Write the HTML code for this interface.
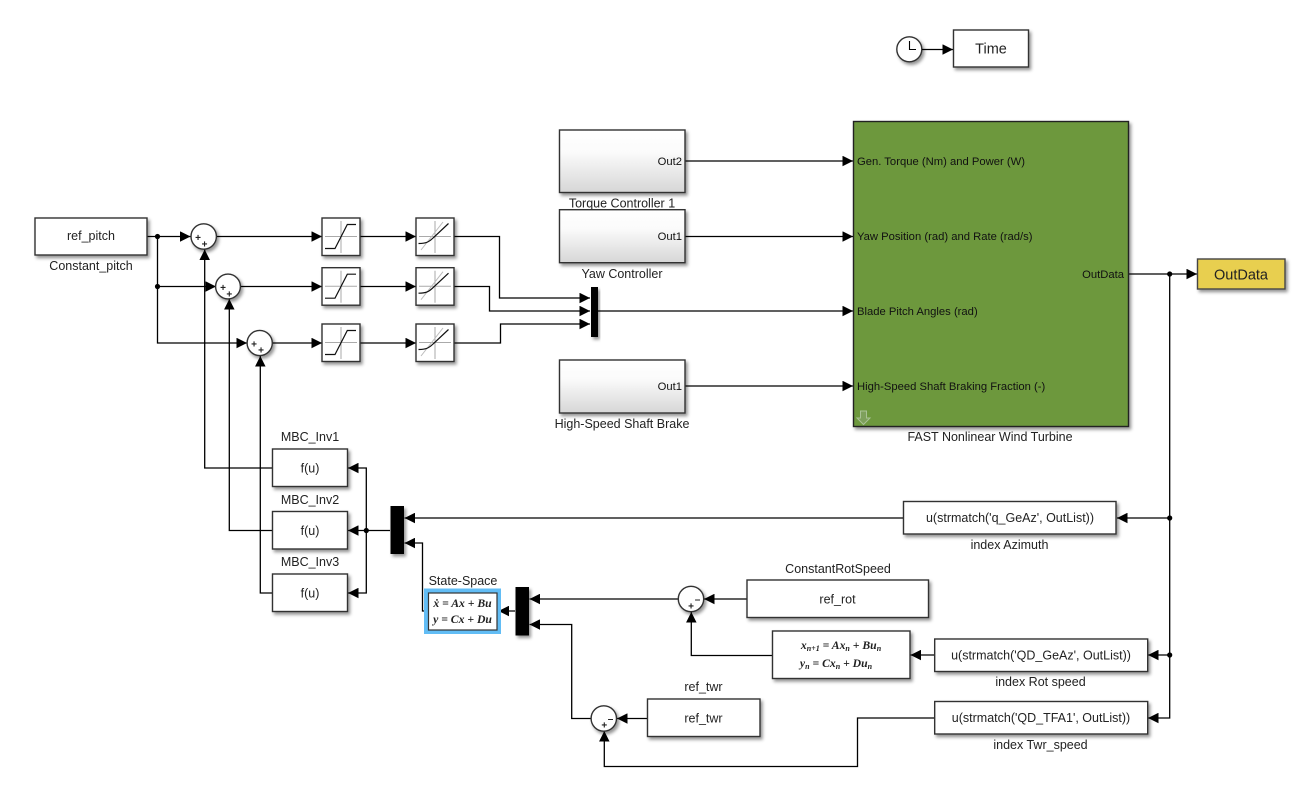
<!DOCTYPE html>
<html>
<head>
<meta charset="utf-8">
<style>
html,body{margin:0;padding:0;background:#fff;width:1303px;height:788px;overflow:hidden}
svg{display:block}
text{font-family:"Liberation Sans",Arial,sans-serif;font-size:12.5px;fill:#222}
.m{text-anchor:middle}
.e{text-anchor:end}
.s{font-size:11.25px;fill:#111}
.w{fill:none;stroke:#000;stroke-width:1.3;marker-end:url(#a)}
.n{fill:none;stroke:#000;stroke-width:1.1}
.b{fill:#fff;stroke:#333;stroke-width:1.4;filter:url(#sh)}
.g{fill:url(#gr);stroke:#333;stroke-width:1.4;filter:url(#sh)}
.sg{font-size:10px;font-weight:bold;text-anchor:middle;fill:#222}
.q{font-family:"Liberation Serif",serif;font-style:italic;font-weight:bold;font-size:11.7px;text-anchor:middle;fill:#222}
</style>
</head>
<body>
<svg width="1303" height="788" viewBox="0 0 1303 788" xmlns="http://www.w3.org/2000/svg">
<defs>
<marker id="a" viewBox="0 0 10 10" refX="10" refY="5" markerWidth="10.5" markerHeight="10.5" markerUnits="userSpaceOnUse" orient="auto"><path d="M0 0L10 5L0 10z" fill="#000"/></marker>
<linearGradient id="gr" x1="0" y1="0" x2="0" y2="1"><stop offset="0" stop-color="#fff"/><stop offset=".35" stop-color="#fbfbfb"/><stop offset="1" stop-color="#d6d6d6"/></linearGradient>
<filter id="sh" x="-20%" y="-20%" width="150%" height="150%"><feDropShadow dx="2" dy="2.5" stdDeviation="1.6" flood-color="#000" flood-opacity=".42"/></filter>
<g id="sat">
<rect class="b" x="0" y="0" width="38" height="37.5"/>
<path d="M19 3V35M3 18.5H35" stroke="#aaa" stroke-width="1" fill="none"/>
<path d="M3 30.5H13L25.3 6.5H34" stroke="#111" stroke-width="1.2" fill="none"/>
</g>
<g id="lut">
<rect class="b" x="0" y="0" width="38" height="37.5"/>
<path d="M19 3V35M3 18.5H35" stroke="#aaa" stroke-width="1" fill="none"/>
<path d="M5 32L27 4" stroke="#bbb" stroke-width="1" fill="none"/>
<path d="M2.5 25.5C10 25.5 13 24 17 20L32.5 5.5" stroke="#111" stroke-width="1.2" fill="none"/>
</g>
</defs>

<!-- Time -->
<circle cx="909.3" cy="49.3" r="12.5" class="b"/>
<path d="M909.5 41V49.5H916" class="n"/>
<path d="M922 49.5H953" class="w"/>
<rect class="b" x="953.5" y="30" width="75" height="37"/>
<text x="991" y="53.5" class="m" style="font-size:14.5px">Time</text>

<!-- wires -->
<path d="M147 236.5H190.500" class="w"/>
<path d="M216.500 236.500H322" class="w"/>
<path d="M360 236.500H416" class="w"/>
<path d="M454 236.500H499.500V298H590" class="w"/>
<path d="M157.500 236.500V343H247" class="w"/>
<path d="M157.500 286.500H216" class="w"/>
<path d="M240.500 286.500H322" class="w"/>
<path d="M360 286.500H416" class="w"/>
<path d="M454 286.500H489.500V311H590" class="w"/>
<path d="M272.500 343H322" class="w"/>
<path d="M360 343H416" class="w"/>
<path d="M454 343H500.500V324H590" class="w"/>
<path d="M598 311H853" class="w"/>
<path d="M685 161H853" class="w"/>
<path d="M685 236.500H853" class="w"/>
<path d="M685 386H853" class="w"/>
<path d="M1129 274H1197" class="w"/>
<path d="M1169.700 274V718H1148" class="w"/>
<path d="M1169.700 518H1117" class="w"/>
<path d="M1169.700 655H1148" class="w"/>
<path d="M903.500 518H404.500" class="w"/>
<path d="M934.500 655H910.500" class="w"/>
<path d="M934.500 718H857.500V766.500H604.300V731" class="w"/>
<path d="M772.500 655.500H691.300V612" class="w"/>
<path d="M747 599H704" class="w"/>
<path d="M678 599H529.500" class="w"/>
<path d="M647 718.500H617" class="w"/>
<path d="M591 718.500H571.700V624.500H529.500" class="w"/>
<path d="M515 611H498.500" class="w"/>
<path d="M428 611H422.500V543H404.500" class="w"/>
<path d="M390 530.500H348" class="w"/>
<path d="M366.300 530.500V468H348" class="w"/>
<path d="M366.300 530.500V593H348" class="w"/>
<path d="M272 468H204.700V249.500" class="w"/>
<path d="M272 530.500H229.300V299" class="w"/>
<path d="M272 593H260.300V356" class="w"/>

<!-- junctions -->
<g fill="#000">
<circle cx="157.500" cy="236.500" r="2.600"/>
<circle cx="157.500" cy="286.500" r="2.600"/>
<circle cx="366.300" cy="530.500" r="2.600"/>
<circle cx="1169.700" cy="274" r="2.600"/>
<circle cx="1169.700" cy="518" r="2.600"/>
<circle cx="1169.700" cy="655" r="2.600"/>
</g>

<!-- ref_pitch -->
<rect class="b" x="35" y="218" width="112" height="37"/>
<text x="91" y="240" class="m">ref_pitch</text>
<text x="91" y="270" class="m">Constant_pitch</text>

<!-- sums -->
<circle class="b" cx="203.700" cy="236.500" r="12.700"/>
<text x="198" y="241" class="sg">+</text><text x="204.500" y="247.500" class="sg">+</text>
<circle class="b" cx="228" cy="286.500" r="12.400"/>
<text x="223" y="291" class="sg">+</text><text x="229.300" y="297.500" class="sg">+</text>
<circle class="b" cx="259.700" cy="343" r="12.600"/>
<text x="254" y="347.500" class="sg">+</text><text x="261" y="353.500" class="sg">+</text>
<circle class="b" cx="691" cy="599" r="12.700"/>
<text x="697.500" y="602.500" class="sg">–</text><text x="691" y="609.500" class="sg">+</text>
<circle class="b" cx="603.800" cy="718.500" r="12.700"/>
<text x="610.500" y="722" class="sg">–</text><text x="604.300" y="728.500" class="sg">+</text>

<!-- saturations and lookups -->
<use href="#sat" x="322" y="218"/>
<use href="#sat" x="322" y="267.700"/>
<use href="#sat" x="322" y="324"/>
<use href="#lut" x="416" y="218"/>
<use href="#lut" x="416" y="267.700"/>
<use href="#lut" x="416" y="324"/>

<!-- muxes -->
<rect x="591" y="287" width="7" height="50" fill="#000" filter="url(#sh)"/>
<rect x="390.500" y="506" width="13.500" height="48" fill="#000" filter="url(#sh)"/>
<rect x="515.500" y="587" width="13.500" height="48.500" fill="#000" filter="url(#sh)"/>

<!-- controllers -->
<rect class="g" x="559.500" y="130" width="125.500" height="62.500"/>
<text x="682" y="165" class="e s">Out2</text>
<text x="622" y="207.500" class="m">Torque Controller 1</text>
<rect class="g" x="559.500" y="209.700" width="125.500" height="53"/>
<text x="682" y="240" class="e s">Out1</text>
<text x="622" y="278" class="m">Yaw Controller</text>
<rect class="g" x="559.500" y="360" width="125.500" height="53"/>
<text x="682" y="390" class="e s">Out1</text>
<text x="622" y="428" class="m">High-Speed Shaft Brake</text>

<!-- FAST -->
<rect x="853.500" y="121.500" width="275" height="305" fill="#6d983c" stroke="#222" stroke-width="1.4" filter="url(#sh)"/>
<text x="857" y="165" class="s">Gen. Torque (Nm) and Power (W)</text>
<text x="857" y="240" class="s">Yaw Position (rad) and Rate (rad/s)</text>
<text x="857" y="315" class="s">Blade Pitch Angles (rad)</text>
<text x="857" y="390" class="s">High-Speed Shaft Braking Fraction (-)</text>
<text x="1124" y="278" class="e s">OutData</text>
<path d="M860.500 411H866.500V418H870L863.500 424.500L857 418H860.500Z" fill="#7ea05c" stroke="#a9c295" stroke-width="1"/>
<text x="990" y="441" class="m">FAST Nonlinear Wind Turbine</text>

<!-- OutData -->
<rect x="1197.500" y="259" width="87.500" height="30" fill="#e8cf50" stroke="#444" stroke-width="1.4" filter="url(#sh)"/>
<text x="1241" y="279.500" class="m" style="font-size:14.500px">OutData</text>

<!-- MBC -->
<text x="310" y="441" class="m">MBC_Inv1</text>
<rect class="b" x="272.500" y="449" width="75" height="37.500"/>
<text x="310" y="472.500" class="m">f(u)</text>
<text x="310" y="504" class="m">MBC_Inv2</text>
<rect class="b" x="272.500" y="511.500" width="75" height="37.500"/>
<text x="310" y="535" class="m">f(u)</text>
<text x="310" y="566" class="m">MBC_Inv3</text>
<rect class="b" x="272.500" y="574" width="75" height="37.500"/>
<text x="310" y="597.500" class="m">f(u)</text>

<!-- State-space -->
<text x="463" y="585" class="m">State-Space</text>
<rect x="424" y="588.500" width="77" height="45.500" fill="#62bdf5"/>
<rect x="428.500" y="593" width="68.500" height="37" fill="#fff" stroke="#333" stroke-width="1.200"/>
<text x="462.500" y="607" class="q">ẋ = Ax + Bu</text>
<text x="462.500" y="623" class="q">y = Cx + Du</text>

<!-- ref_rot -->
<text x="838" y="573" class="m">ConstantRotSpeed</text>
<rect class="b" x="747" y="580" width="181.500" height="37.500"/>
<text x="837.500" y="603.500" class="m">ref_rot</text>

<!-- discrete -->
<rect class="b" x="772.500" y="631" width="137.500" height="47.500"/>
<text x="841" y="649" class="q">x<tspan font-size="8" dy="2">n+1</tspan><tspan dy="-2"> = Ax</tspan><tspan font-size="8" dy="2">n</tspan><tspan dy="-2"> + Bu</tspan><tspan font-size="8" dy="2">n</tspan></text>
<text x="836" y="667" class="q">y<tspan font-size="8" dy="2">n</tspan><tspan dy="-2"> = Cx</tspan><tspan font-size="8" dy="2">n</tspan><tspan dy="-2"> + Du</tspan><tspan font-size="8" dy="2">n</tspan></text>

<!-- ref_twr -->
<text x="703.500" y="691" class="m">ref_twr</text>
<rect class="b" x="647.500" y="699" width="112.500" height="37.500"/>
<text x="703.500" y="722.500" class="m">ref_twr</text>

<!-- index blocks -->
<rect class="b" x="903.500" y="501.500" width="212.500" height="32.500"/>
<text x="1010" y="522" class="m">u(strmatch('q_GeAz', OutList))</text>
<text x="1009.500" y="549" class="m">index Azimuth</text>
<rect class="b" x="934.700" y="639" width="213" height="32.500"/>
<text x="1041" y="659.500" class="m">u(strmatch('QD_GeAz', OutList))</text>
<text x="1040.500" y="686" class="m">index Rot speed</text>
<rect class="b" x="934.700" y="701.500" width="213" height="32.500"/>
<text x="1041" y="722" class="m">u(strmatch('QD_TFA1', OutList))</text>
<text x="1040.500" y="749" class="m">index Twr_speed</text>
</svg>
</body>
</html>
